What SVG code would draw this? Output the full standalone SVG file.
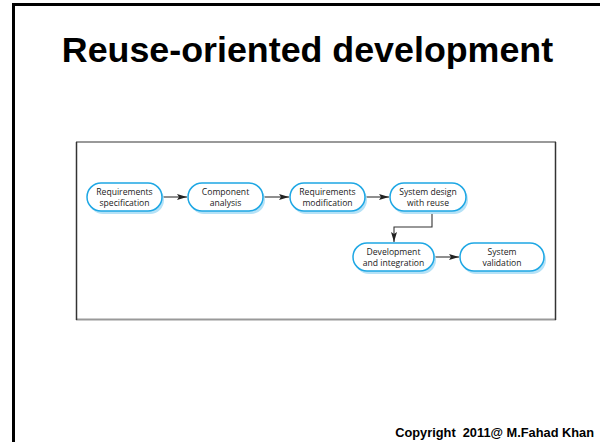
<svg xmlns="http://www.w3.org/2000/svg" width="600" height="442" viewBox="0 0 600 442">
<defs>
<style>
.bg{fill:#fff}
.frame{fill:none;stroke:#000;stroke-width:3}
.title{font-family:"Liberation Sans",Arial,sans-serif;font-weight:bold;font-size:35.8px;fill:#000}
.copy{font-family:"Liberation Sans",Arial,sans-serif;font-weight:bold;font-size:12.8px;fill:#000;white-space:pre}
.boxv{stroke:#333;stroke-width:1.5}
.boxh{stroke:#999;stroke-width:2}
.shadow{fill:#b5e2f7;stroke:none}
.node{fill:#fff;stroke:#1ea7e4;stroke-width:1.5}
.lbl{font-family:"Open Sans","Noto Sans",sans-serif;font-size:8.6px;fill:#1a1a1a;text-anchor:middle}
.conn{fill:none;stroke:#333;stroke-width:1.1}
</style>
<marker id="arr" viewBox="0 0 10 6" refX="10" refY="3" markerWidth="10" markerHeight="6" markerUnits="userSpaceOnUse" orient="auto">
<path d="M0,0 L10,3 L0,6 L2,3 Z" fill="#222"/>
</marker>
</defs>
<rect class="bg" x="0" y="0" width="600" height="442"/>
<path class="frame" d="M13.5,442 V4.5 H600"/>
<text class="title" x="307.5" y="62" text-anchor="middle">Reuse-oriented development</text>
<g id="panel">
<rect x="76" y="142" width="480" height="178" fill="#fff"/>
<line class="boxh" x1="76" y1="142" x2="556" y2="142"/>
<line class="boxh" x1="76" y1="319.5" x2="556" y2="319.5"/>
<line class="boxv" x1="76.5" y1="142" x2="76.5" y2="320"/>
<line class="boxv" x1="555.5" y1="142" x2="555.5" y2="320"/>
</g>
<g id="connectors">
<line class="conn" x1="162" y1="197" x2="187" y2="197" marker-end="url(#arr)"/>
<line class="conn" x1="263" y1="197" x2="289" y2="197" marker-end="url(#arr)"/>
<line class="conn" x1="365" y1="197" x2="389" y2="197" marker-end="url(#arr)"/>
<path class="conn" d="M432,211 V227 H394 V242" marker-end="url(#arr)"/>
<line class="conn" x1="434" y1="257" x2="459" y2="257" marker-end="url(#arr)"/>
</g>
<g id="n1">
<rect class="shadow" x="89" y="186" width="75" height="28" rx="14"/>
<rect class="node" x="87" y="183" width="75" height="28" rx="14"/>
<text class="lbl" x="124.5" y="194.5">Requirements</text>
<text class="lbl" x="124.5" y="205.5">specification</text>
</g>
<g id="n2">
<rect class="shadow" x="190" y="186" width="75" height="28" rx="14"/>
<rect class="node" x="188" y="183" width="75" height="28" rx="14"/>
<text class="lbl" x="225.5" y="194.5">Component</text>
<text class="lbl" x="225.5" y="205.5">analysis</text>
</g>
<g id="n3">
<rect class="shadow" x="292" y="186" width="75" height="28" rx="14"/>
<rect class="node" x="290" y="183" width="75" height="28" rx="14"/>
<text class="lbl" x="327.5" y="194.5">Requirements</text>
<text class="lbl" x="327.5" y="205.5">modification</text>
</g>
<g id="n4">
<rect class="shadow" x="392" y="186" width="76" height="28" rx="14"/>
<rect class="node" x="390" y="183" width="76" height="28" rx="14"/>
<text class="lbl" x="428" y="194.5">System design</text>
<text class="lbl" x="428" y="205.5">with reuse</text>
</g>
<g id="n5">
<rect class="shadow" x="355" y="246" width="81" height="28" rx="14"/>
<rect class="node" x="353" y="243" width="81" height="28" rx="14"/>
<text class="lbl" x="393.5" y="254.5">Development</text>
<text class="lbl" x="393.5" y="265.5">and integration</text>
</g>
<g id="n6">
<rect class="shadow" x="462" y="246" width="84" height="28" rx="14"/>
<rect class="node" x="460" y="243" width="84" height="28" rx="14"/>
<text class="lbl" x="502" y="254.5">System</text>
<text class="lbl" x="502" y="265.5">validation</text>
</g>
<text class="copy" x="594" y="437" text-anchor="end" xml:space="preserve">Copyright  2011@ M.Fahad Khan</text>
</svg>
